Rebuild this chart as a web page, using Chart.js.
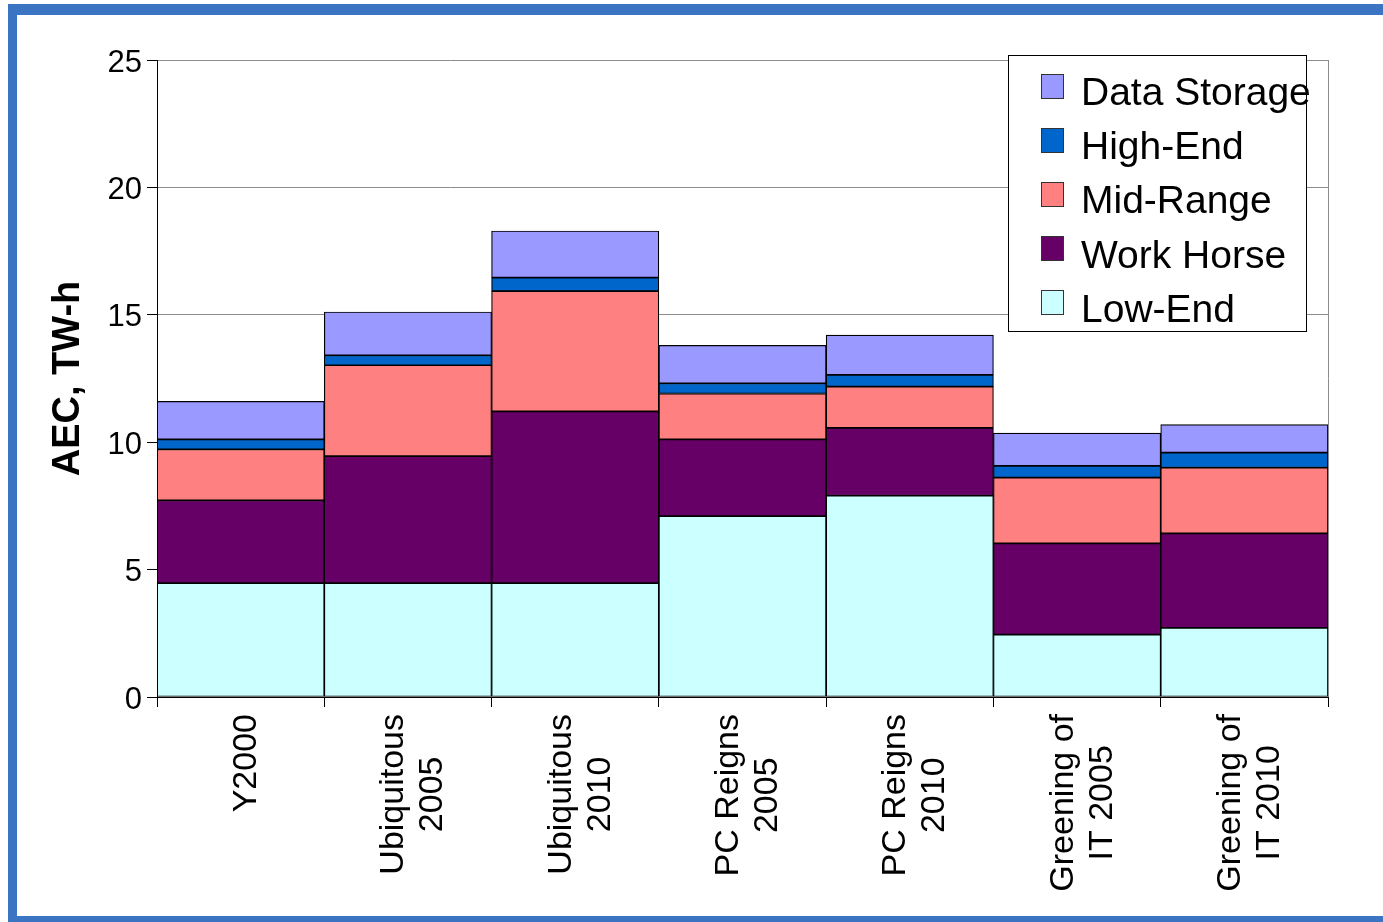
<!DOCTYPE html>
<html>
<head>
<meta charset="utf-8">
<script src="https://cdn.jsdelivr.net/npm/chart.js@4.4.1/dist/chart.umd.min.js"></script>
<style>
  html, body { margin: 0; padding: 0; background: #ffffff; width: 1383px; height: 922px; overflow: hidden; }
  #frame {
    position: absolute; left: 8px; top: 4px; width: 1400px; height: 901px;
    border-style: solid; border-color: #3b74c2; border-width: 11px 10px 10px 9px;
  }
  #wrap { position: absolute; left: 0; top: 0; width: 1383px; height: 922px; }
</style>
</head>
<body>
<div id="frame"></div>
<div id="wrap"><canvas id="chart" width="1383" height="922"></canvas></div>
<script>
// Scenario categories (two-line labels on the x axis)
const scenarios = [
  ["Y2000"],
  ["Ubiquitous", "2005"],
  ["Ubiquitous", "2010"],
  ["PC Reigns", "2005"],
  ["PC Reigns", "2010"],
  ["Greening of", "IT 2005"],
  ["Greening of", "IT 2010"]
];

// Annual energy consumption by server class, TW-h
const lowEnd      = [4.47, 4.47, 4.47, 7.10, 7.90, 2.45, 2.71];
const workHorse   = [3.25, 4.98, 6.74, 3.01, 2.66, 3.58, 3.71];
const midRange    = [2.00, 3.57, 4.72, 1.80, 1.62, 2.58, 2.58];
const highEnd     = [0.39, 0.39, 0.53, 0.40, 0.46, 0.46, 0.59];
const dataStorage = [1.49, 1.70, 1.83, 1.49, 1.56, 1.29, 1.10];

const seriesNames = ["Low-End", "Work Horse", "Mid-Range", "High-End", "Data Storage"];
const yMin = 0, yMax = 25, yStep = 5;

const FAMILY = '"Liberation Sans", Arial, Helvetica, sans-serif';
Chart.defaults.font.family = FAMILY;
Chart.defaults.color = '#000';

// Category labels: rotated, lines centred on each other
const categoryLabels = {
  id: 'categoryLabels',
  afterDraw(chart) {
    const xs = chart.scales.x;
    const ctx = chart.ctx;
    const lineH = 39, capH = 24, start = xs.top + 17;
    ctx.save();
    ctx.font = '34px ' + FAMILY;
    ctx.fillStyle = '#000';
    ctx.textAlign = 'center';
    ctx.textBaseline = 'alphabetic';
    xs.ticks.forEach((t, i) => {
      const lines = [].concat(chart.data.labels[i]);
      const cx = xs.getPixelForTick(i);
      const w = Math.max(...lines.map(l => ctx.measureText(l).width));
      ctx.save();
      ctx.translate(0, start + w / 2);
      ctx.rotate(-Math.PI / 2);
      lines.forEach((l, j) => {
        const base = cx + (j - (lines.length - 1) / 2) * lineH + capH / 2 + 3;
        ctx.fillText(l, 0, base);
      });
      ctx.restore();
    });
    ctx.restore();
  }
};

// Boxed legend in the upper right of the plot
const boxedLegend = {
  id: 'boxedLegend',
  afterDraw(chart) {
    const ctx = chart.ctx;
    const sets = chart.data.datasets.slice().reverse();
    const bx = 1008.5, by = 55.5, bw = 298, bh = 276;
    ctx.save();
    ctx.fillStyle = '#fff';
    ctx.fillRect(bx, by, bw, bh);
    ctx.strokeStyle = '#000';
    ctx.lineWidth = 1;
    ctx.strokeRect(bx, by, bw, bh);
    ctx.font = '39px ' + FAMILY;
    ctx.textAlign = 'left';
    ctx.textBaseline = 'alphabetic';
    sets.forEach((ds, i) => {
      const sy = 73.5 + i * 54.2;
      ctx.fillStyle = ds.backgroundColor;
      ctx.fillRect(1041.5, Math.round(sy) + 0.5, 22, 24);
      ctx.strokeStyle = '#333';
      ctx.strokeRect(1041.5, Math.round(sy) + 0.5, 22, 24);
      ctx.fillStyle = '#000';
      ctx.fillText(ds.label, 1081, 105 + i * 54.2);
    });
    ctx.restore();
  }
};

const colors = ['#ccffff', '#660066', '#ff8080', '#0066cc', '#9999ff'];
const values = [lowEnd, workHorse, midRange, highEnd, dataStorage];

new Chart(document.getElementById('chart'), {
  type: 'bar',
  data: {
    labels: scenarios,
    datasets: seriesNames.map((name, k) => ({
      label: name,
      data: values[k],
      backgroundColor: colors[k],
      borderColor: '#000',
      borderWidth: 1.2,
      borderSkipped: false,
      barPercentage: 1,
      categoryPercentage: 1
    }))
  },
  options: {
    responsive: false,
    animation: false,
    devicePixelRatio: 1,
    events: [],
    layout: { padding: { top: 60, right: 55, left: 0, bottom: 0 } },
    plugins: { legend: { display: false }, tooltip: { enabled: false } },
    scales: {
      x: {
        stacked: true,
        offset: true,
        grid: {
          offset: true,
          drawOnChartArea: true,
          // only the closing edge of the plot shows as a grey rule
          color: c => (c.index === undefined ? '#8c8c8c' : 'rgba(0,0,0,0)'),
          tickColor: '#000',
          tickLength: 10,
          lineWidth: 1
        },
        border: { color: '#000', width: 1, z: 1 },
        ticks: { display: false },
        afterFit: s => { s.height = 225; }
      },
      y: {
        stacked: true,
        min: yMin,
        max: yMax,
        ticks: { stepSize: yStep, font: { size: 31 }, color: '#000', padding: 5, labelOffset: 3 },
        grid: { color: '#8c8c8c', tickColor: '#000', tickLength: 10, lineWidth: 1 },
        border: { color: '#000', width: 1, z: 1 },
        title: {
          display: true,
          text: 'AEC, TW-h',
          color: '#000',
          font: { size: 38, weight: 'bold' },
          padding: { top: 46, bottom: 0 }
        },
        afterFit: s => { s.width = 157; }
      }
    }
  },
  plugins: [categoryLabels, boxedLegend]
});
</script>
</body>
</html>
